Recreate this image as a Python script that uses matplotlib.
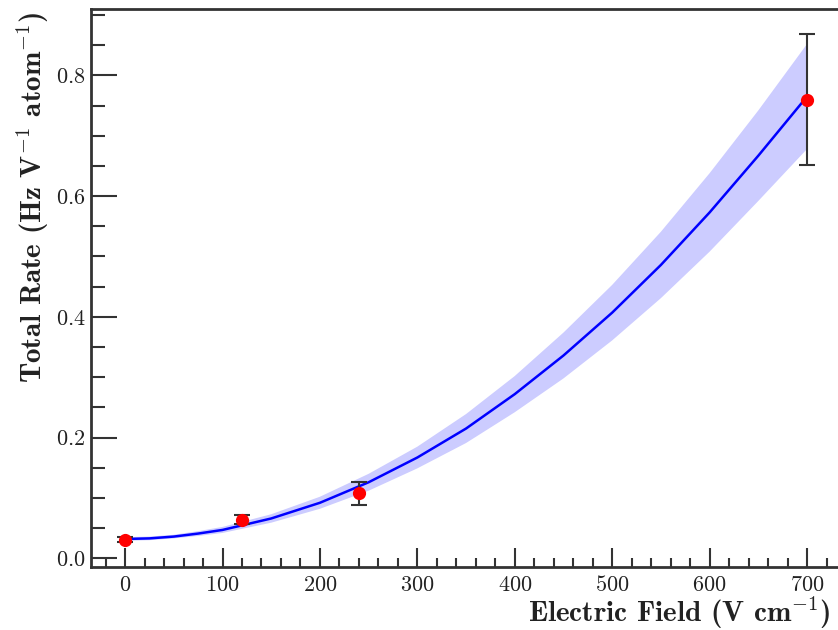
import matplotlib
matplotlib.use("Agg")
import matplotlib.pyplot as plt
from matplotlib.ticker import MultipleLocator

plt.rcParams['mathtext.fontset'] = 'cm'
plt.rcParams['font.family'] = ['cmr10', 'DejaVu Serif']
plt.rcParams['axes.formatter.use_mathtext'] = True

# measured points
field = [0, 120, 240, 700]
rate = [0.031, 0.064, 0.108, 0.760]
rate_err = [0.004, 0.007, 0.019, 0.108]

# fit curve and its uncertainty band
fit_field = [0, 25, 50, 75, 100, 150, 200, 250, 300, 350, 400, 450, 500, 550, 600, 650, 700]
fit_rate = [0.032, 0.033, 0.036, 0.041, 0.047, 0.066, 0.092, 0.126, 0.167, 0.215,
            0.272, 0.336, 0.407, 0.486, 0.573, 0.667, 0.765]
band_lo = [0.029, 0.030, 0.033, 0.037, 0.042, 0.059, 0.082, 0.112, 0.149, 0.191,
           0.242, 0.298, 0.361, 0.431, 0.508, 0.592, 0.678]
band_hi = [0.035, 0.036, 0.039, 0.045, 0.052, 0.073, 0.102, 0.140, 0.185, 0.239,
           0.302, 0.374, 0.453, 0.541, 0.638, 0.742, 0.852]

xlabel = r"Electric Field (V cm$^{-1}$)"
ylabel = r"Total Rate (Hz V$^{-1}$ atom$^{-1}$)"

W, H = 838, 630
fig = plt.figure(figsize=(W / 100, H / 100), dpi=100)
ax = fig.add_axes([91 / W, 63 / H, (846 - 91) / W, (621 - 63) / H])

ax.fill_between(fit_field, band_lo, band_hi, facecolor='#ccccff', edgecolor='none', zorder=1)
ax.plot(fit_field, fit_rate, color='#0000ff', lw=1.8, zorder=2)
ax.errorbar(field, rate, yerr=rate_err, fmt='none', ecolor='#333333', elinewidth=1.5,
            capsize=6, capthick=1.5, zorder=3)
ax.plot(field, rate, 'o', color='#ff0000', markersize=9.5, markeredgewidth=0, zorder=4)

ax.set_xlim(-35, 740)
ax.set_ylim(-0.0144, 0.91)

ax.xaxis.set_major_locator(MultipleLocator(100))
ax.xaxis.set_minor_locator(MultipleLocator(20))
ax.yaxis.set_major_locator(MultipleLocator(0.2))
ax.yaxis.set_minor_locator(MultipleLocator(0.05))

for side in ['left', 'bottom', 'top']:
    ax.spines[side].set_linewidth(2.0)
    ax.spines[side].set_color('#333333')
ax.spines['right'].set_visible(False)

ax.tick_params(axis='both', which='both', direction='in', color='#333333',
               labelcolor='#222222', labelsize=16, top=False, right=False)
ax.tick_params(axis='y', which='major', length=18.5, width=1.5, pad=4)
ax.tick_params(axis='y', which='minor', length=10, width=1.5)
ax.tick_params(axis='x', which='major', length=13.5, width=1.5, pad=6)
ax.tick_params(axis='x', which='minor', length=6.5, width=1.5)

fig.text(830 / W, 1 - 622 / H, xlabel, fontfamily='cmb10', fontsize=21,
         ha='right', va='baseline', color='#222222')
fig.text(42 / W, 1 - 12 / H, ylabel, fontfamily='cmb10', fontsize=21,
         rotation=90, rotation_mode='anchor', ha='right', va='baseline', color='#222222')

fig.savefig('out.png', dpi=100, facecolor='white')
